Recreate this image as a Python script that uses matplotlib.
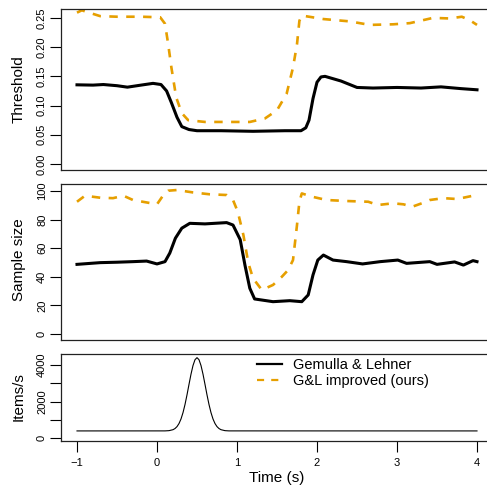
import matplotlib
matplotlib.use("Agg")
import matplotlib.pyplot as plt

plt.rcParams["font.family"] = ["Liberation Sans", "DejaVu Sans"]

ORANGE = "#E69F00"

# threshold panel
thr_gl_t = [-1.0, -0.8, -0.67, -0.5, -0.37, -0.2, -0.05, 0.05, 0.12, 0.18, 0.25, 0.31, 0.4, 0.5,
            0.8, 1.2, 1.6, 1.8, 1.86, 1.9, 1.95, 2.0, 2.05, 2.1, 2.3, 2.5, 2.7, 3.0, 3.3, 3.55, 3.8, 4.0]
thr_gl = [0.1355, 0.135, 0.136, 0.134, 0.1315, 0.135, 0.138, 0.136, 0.125, 0.105, 0.080, 0.064, 0.059, 0.057,
          0.057, 0.056, 0.057, 0.057, 0.062, 0.075, 0.112, 0.140, 0.149, 0.150, 0.142, 0.131, 0.130, 0.131, 0.130,
          0.132, 0.129, 0.127]
thr_imp_t = [-1.0, -0.94, -0.85, -0.71, -0.5, -0.2, 0.04, 0.1, 0.14, 0.18, 0.24, 0.31, 0.39, 0.6, 1.0, 1.16,
             1.35, 1.5, 1.62, 1.7, 1.75, 1.78, 1.81, 2.08, 2.41, 2.66, 2.95, 3.16, 3.29, 3.45, 3.66, 3.81, 3.91, 4.0]
thr_imp = [0.259, 0.263, 0.259, 0.253, 0.252, 0.252, 0.251, 0.240, 0.205, 0.165, 0.114, 0.087, 0.075, 0.072,
           0.072, 0.072, 0.078, 0.092, 0.120, 0.165, 0.205, 0.245, 0.254, 0.248, 0.244, 0.238, 0.239, 0.241,
           0.245, 0.250, 0.249, 0.252, 0.246, 0.238]

# sample size panel
ss_gl_t = [-1.0, -0.71, -0.5, -0.3, -0.13, 0.0, 0.1, 0.16, 0.23, 0.31, 0.41, 0.6, 0.87, 0.95, 1.04, 1.1, 1.16,
           1.22, 1.45, 1.66, 1.81, 1.89, 1.95, 2.01, 2.08, 2.2, 2.37, 2.57, 2.79, 3.01, 3.12, 3.41, 3.5, 3.72,
           3.83, 3.95, 4.0]
ss_gl = [48.7, 49.9, 50.2, 50.6, 51.0, 49.0, 50.6, 56.6, 67.0, 74.0, 77.4, 77.0, 77.9, 76.2, 66.0, 48.0, 32.0,
         24.5, 22.6, 23.3, 22.6, 27.3, 41.3, 51.7, 55.2, 51.7, 50.6, 49.0, 50.6, 51.7, 49.4, 50.6, 48.7, 50.4,
         48.2, 51.3, 50.6]
ss_imp_t = [-1.0, -0.9, -0.71, -0.55, -0.42, -0.3, -0.13, 0.0, 0.08, 0.14, 0.25, 0.45, 0.66, 0.87, 0.95, 1.01,
            1.08, 1.14, 1.2, 1.31, 1.45, 1.56, 1.64, 1.7, 1.75, 1.78, 1.81, 1.94, 2.12, 2.37, 2.64, 2.76, 2.95,
            3.08, 3.19, 3.31, 3.41, 3.58, 3.75, 3.83, 3.95, 4.0]
ss_imp = [92.5, 96.7, 95.3, 95.0, 96.7, 93.7, 92.0, 90.7, 97.2, 100.2, 100.7, 99.0, 97.7, 97.2, 93.7, 85.5,
          69.2, 50.0, 39.0, 30.8, 34.3, 40.0, 44.8, 51.7, 76.2, 92.5, 98.3, 96.0, 93.7, 93.0, 92.5, 90.2, 91.4,
          90.7, 89.0, 91.4, 93.7, 95.0, 94.4, 95.3, 96.7, 95.5]

# input rate panel
rate_t = [-1.0, 0.1, 0.15, 0.2, 0.225, 0.25, 0.275, 0.3, 0.325, 0.35, 0.375, 0.4, 0.425, 0.45, 0.475, 0.5,
          0.525, 0.55, 0.575, 0.6, 0.625, 0.65, 0.675, 0.7, 0.725, 0.75, 0.775, 0.8, 0.85, 0.9, 4.0]
rate = [400, 402, 415, 467, 530, 635, 803, 1052, 1398, 1842, 2369, 2942, 3499, 3971, 4288, 4400,
        4288, 3971, 3499, 2942, 2369, 1842, 1398, 1052, 803, 635, 530, 467, 415, 402, 400]

xticks = [-1, 0, 1, 2, 3, 4]
thr_ticks = [0.00, 0.05, 0.10, 0.15, 0.20, 0.25]
ss_ticks = [0, 20, 40, 60, 80, 100]
rate_ticks = [0, 1000, 2000, 3000, 4000]
rate_labels = ["0", "", "2000", "", "4000"]

W, H = 487, 493
fig = plt.figure(figsize=(W / 100, H / 100), dpi=100)


def panel(top, bottom):
    return fig.add_axes([61 / W, 1 - bottom / H, 432 / W, (bottom - top) / H])


ax1 = panel(9, 170)
ax2 = panel(184, 340)
ax3 = panel(354, 441)

ax1.plot(thr_imp_t, thr_imp, color=ORANGE, lw=1.9, ls=(0, (3.2, 3.2)))
ax1.plot(thr_gl_t, thr_gl, color="black", lw=2.2)
ax1.set_ylim(-0.0102, 0.2652)
ax1.set_yticks(thr_ticks)
ax1.set_yticklabels([f"{v:.2f}" for v in thr_ticks])

ax2.plot(ss_imp_t, ss_imp, color=ORANGE, lw=1.9, ls=(0, (3.2, 3.2)))
ax2.plot(ss_gl_t, ss_gl, color="black", lw=2.2)
ax2.set_ylim(-4.2, 104.9)
ax2.set_yticks(ss_ticks)
ax2.set_yticklabels([str(v) for v in ss_ticks])

ax3.plot(rate_t, rate, color="black", lw=0.8)
ax3.set_ylim(-150, 4600)
ax3.set_yticks(rate_ticks)
ax3.set_yticklabels(rate_labels)
ax3.set_xticks(xticks)
ax3.set_xticklabels([str(v).replace("-", "\u2212") for v in xticks])
ax3.tick_params(axis="x", length=8, width=0.8, pad=4, labelsize=8)

for ax in (ax1, ax2, ax3):
    ax.set_xlim(-1.2, 4.2)
    for s in ax.spines.values():
        s.set_linewidth(0.9)
        s.set_color("#222222")
    ax.tick_params(axis="y", length=8, width=0.8, pad=2, labelsize=8, labelrotation=90)
    for lab in ax.get_yticklabels():
        lab.set_va("center")
for ax in (ax1, ax2):
    ax.set_xticks([])

fig.text(19 / W, 1 - 89.5 / H, "Threshold", rotation=90, ha="center", va="center", fontsize=11)
fig.text(19 / W, 1 - 260 / H, "Sample size", rotation=90, ha="center", va="center", fontsize=11)
fig.text(19 / W, 1 - 397 / H, "Items/s", rotation=90, ha="center", va="center", fontsize=11)
fig.text(277 / W, 1 - 478 / H, "Time (s)", ha="center", va="center", fontsize=11)

h1, = ax3.plot([], [], color="black", lw=1.6)
h2, = ax3.plot([], [], color=ORANGE, lw=1.6, ls=(0, (3.2, 3.2)))
ax3.legend([h1, h2], ["Gemulla & Lehner", "G&L improved (ours)"], loc="upper left",
           bbox_to_anchor=(257 / W, 1 - 358 / H), bbox_transform=fig.transFigure,
           frameon=False, fontsize=10.5, handlelength=1.7, handletextpad=0.75,
           labelspacing=0.15, borderpad=0, borderaxespad=0)

fig.savefig("out.png", dpi=100)
